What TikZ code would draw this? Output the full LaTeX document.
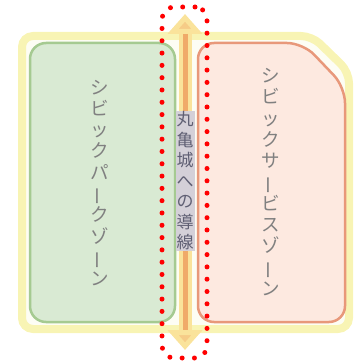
\documentclass[tikz,border=0pt]{standalone}
\usepackage{fontspec}
\setmainfont{Noto Sans CJK JP}
\usepackage{graphicx}
\usetikzlibrary{arrows.meta, calc, positioning}

\begin{document}
\begin{tikzpicture}[
      x=1pt, y=-1pt,
      zonetext/.style = {
          align=center,
          text=black!50,
          font=\fontsize{18.5}{21.3}\selectfont,
        },
      zonebox/.style = {
          draw,
          line width=2.5pt,
          rounded corners=16pt,
        },
    ]
    \useasboundingbox (0,0) rectangle (355,363);

    % outer frame
    \draw[line width=8pt, rounded corners=11pt,
          draw={rgb,255:red,248;green,244;blue,180},
          fill={rgb,255:red,253;green,253;blue,244}]
      (22,36) -- (312,36) -- (349,72) -- (349,329) -- (22,329) -- cycle;

    % park zone
    \node[zonebox, fill={rgb,255:red,217;green,234;blue,211},
          draw={rgb,255:red,165;green,202;blue,145},
          minimum width=145pt, minimum height=279pt](park) at (102.5,182.5) {};
    \node[zonetext](parktext) at (100,183) {
        シ\\ビ\\ッ\\ク\\パ\\\rotatebox[origin=c]{90}{ー}\\ク\\ゾ\\\rotatebox[origin=c]{90}{ー}\\ン
      };

    % service zone
    \draw[zonebox, fill={rgb,255:red,253;green,233;blue,224},
          draw={rgb,255:red,232;green,152;blue,122}]
      (198,43) -- (303,43) -- (345,87) -- (345,322) -- (198,322) -- cycle;
    \node[zonetext](servicetext) at (271,182) {
        シ\\ビ\\ッ\\ク\\サ\\\rotatebox[origin=c]{90}{ー}\\ビ\\ス\\ゾ\\\rotatebox[origin=c]{90}{ー}\\ン
      };

    % route arrow
    \coordinate (top) at (185,14);
    \coordinate (bottom) at (185,350);
    \draw[line width=13pt, draw={rgb,255:red,250;green,227;blue,155},
          {Triangle[width=34pt,length=20pt,fill={rgb,255:red,246;green,204;blue,135}]}-%
          {Triangle[width=34pt,length=20pt,fill={rgb,255:red,246;green,204;blue,135}]}]
      (top) -- (bottom);
    \draw[line width=5pt, draw={rgb,255:red,240;green,170;blue,105}]
      ($(top)+(0,20)$) -- ($(bottom)-(0,20)$);

    \node[zonetext, text={rgb,255:red,95;green,95;blue,115},
          fill={rgb,255:red,212;green,208;blue,216}, inner sep=1pt,
          font=\fontsize{17}{20.5}\selectfont](route) at (185,181) {
        丸\\亀\\城\\へ\\の\\導\\線
      };

    % dotted focus
    \node[draw=red, line width=5pt, line cap=round, dash pattern=on 0pt off 12.3pt,
          rounded corners=12pt, minimum width=45pt, minimum height=351pt](focus)
      at (184.5,182.5) {};

  \end{tikzpicture}
\end{document}
